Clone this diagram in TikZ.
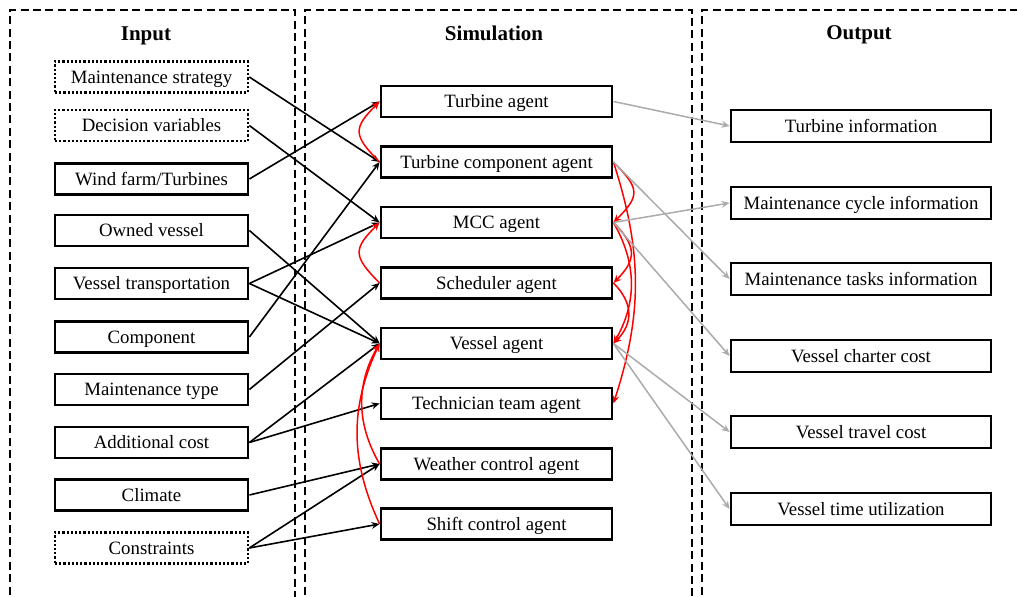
\documentclass[tikz,border=0pt]{standalone}
\usepackage{fontspec}
\setmainfont{Liberation Serif}
\usetikzlibrary{arrows.meta}
\begin{document}
\begin{tikzpicture}[x=0.5pt,y=0.5pt,
 box/.style={draw,line width=1.4pt,minimum height=15.5pt,inner sep=0pt,text height=6.4pt,text depth=0pt,font=\fontsize{9.4}{11}\selectfont},
 inbox/.style={box,minimum width=96.5pt},
 dotbox/.style={inbox,dash pattern=on 1.1pt off 1pt,line width=1.3pt},
 simbox/.style={box,minimum width=115.5pt},
 outbox/.style={box,minimum width=130pt,minimum height=16pt},
 panel/.style={line width=1.3pt,dash pattern=on 4pt off 2.2pt},
 title/.style={font=\fontsize{10.5}{12}\selectfont\bfseries,text height=7pt,text depth=0pt,inner sep=0pt},
 tip/.style={-{Stealth[length=4pt,width=3.4pt]}},
 blk/.style={tip,line width=0.8pt},
 redc/.style={tip,red,line width=0.75pt},
 gry/.style={tip,black!33,line width=0.75pt},
]
\useasboundingbox (0,0) rectangle (1017,597);
\clip (0,0) rectangle (1017,597);

% panels
\draw[panel] (10,-10) -- (10,587) -- (295,587) -- (295,-10);
\draw[panel] (305,-10) -- (305,587) -- (692,587) -- (692,-10);
\draw[panel] (702,-10) -- (702,587) -- (1030,587);

\node[title] (tin) at (146,563) {Input};
\node[title] (tsim) at (494,563) {Simulation};
\node[title] (tout) at (859,564) {Output};

% input
\node[dotbox] (ms) at (151.5,520) {Maintenance strategy};
\node[dotbox] (dv) at (151.5,471.5) {Decision variables};
\node[inbox] (wf) at (151.5,418) {Wind farm/Turbines};
\node[inbox] (ov) at (151.5,366.5) {Owned vessel};
\node[inbox] (vt) at (151.5,313.5) {Vessel transportation};
\node[inbox] (co) at (151.5,260) {Component};
\node[inbox] (mt) at (151.5,207.5) {Maintenance type};
\node[inbox] (ac) at (151.5,154.5) {Additional cost};
\node[inbox] (cl) at (151.5,102) {Climate};
\node[dotbox] (cs) at (151.5,49) {Constraints};

% simulation
\node[simbox] (ta) at (496.5,495.5) {Turbine agent};
\node[simbox] (tc) at (496.5,435) {Turbine component agent};
\node[simbox] (mcc) at (496.5,374.5) {MCC agent};
\node[simbox] (sch) at (496.5,314) {Scheduler agent};
\node[simbox] (va) at (496.5,253.5) {Vessel agent};
\node[simbox] (tt) at (496.5,193.5) {Technician team agent};
\node[simbox] (wc) at (496.5,133) {Weather control agent};
\node[simbox] (sc) at (496.5,73) {Shift control agent};

% output
\node[outbox] (ti) at (861,471) {Turbine information};
\node[outbox] (mci) at (861,394) {Maintenance cycle information};
\node[outbox] (mti) at (861,318) {Maintenance tasks information};
\node[outbox] (vcc) at (861,241) {Vessel charter cost};
\node[outbox] (vtc) at (861,165) {Vessel travel cost};
\node[outbox] (vtu) at (861,88) {Vessel time utilization};

% input -> simulation
\draw[blk] (ms.east) -- (tc.west);
\draw[blk] (dv.east) -- (mcc.west);
\draw[blk] (wf.east) -- (ta.west);
\draw[blk] (ov.east) -- (va.west);
\draw[blk] (vt.east) -- (mcc.west);
\draw[blk] (vt.east) -- (va.west);
\draw[blk] (co.east) -- (tc.west);
\draw[blk] (mt.east) -- (sch.west);
\draw[blk] (ac.east) -- (va.west);
\draw[blk] (ac.east) -- (tt.west);
\draw[blk] (cl.east) -- (wc.west);
\draw[blk] (cs.east) -- (wc.west);
\draw[blk] (cs.east) -- (sc.west);

% red left
\draw[redc] (tc.west) to[out=135,in=225,looseness=1.6] (ta.west);
\draw[redc] (sch.west) to[out=135,in=225,looseness=1.6] (mcc.west);
\draw[redc] (wc.west) to[out=120,in=240] (va.west);
\draw[redc] (sc.west) to[out=115,in=245] (va.west);

% red right
\draw[redc] (tc.east) to[out=-45,in=45,looseness=1.6] (mcc.east);
\draw[redc] (tc.east) to[out=-72,in=72] (tt.east);
\draw[redc] (mcc.east) to[out=-45,in=45,looseness=1.4] (sch.east);
\draw[redc] (mcc.east) to[out=-60,in=60] (va.east);
\draw[redc] (sch.east) to[out=-45,in=45,looseness=1.2] (va.east);

% simulation -> output
\draw[gry] (ta.east) -- (ti.west);
\draw[gry] (mcc.east) -- (mci.west);
\draw[gry] (tc.east) -- (mti.west);
\draw[gry] (mcc.east) -- (vcc.west);
\draw[gry] (va.east) -- (vtc.west);
\draw[gry] (va.east) -- (vtu.west);
\end{tikzpicture}
\end{document}
